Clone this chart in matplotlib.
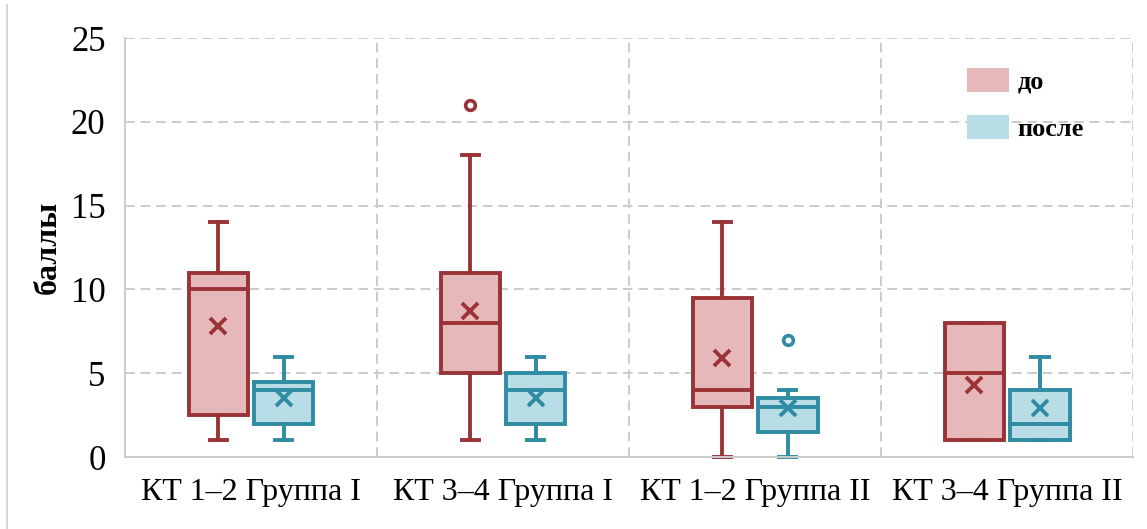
import matplotlib.pyplot as plt
from matplotlib.patches import Patch
from matplotlib.lines import Line2D

plt.rcParams['font.family'] = ['Liberation Serif', 'DejaVu Serif']

# ---- data ----
categories = ["КТ 1–2 Группа I", "КТ 3–4 Группа I", "КТ 1–2 Группа II", "КТ 3–4 Группа II"]

# до
do_whislo = [1, 1, 0, 1]
do_q1 = [2.5, 5, 3, 1]
do_med = [10, 8, 4, 5]
do_q3 = [11, 11, 9.5, 8]
do_whishi = [14, 18, 14, 8]
do_mean = [7.8, 8.7, 5.9, 4.3]
do_fliers = [[], [21], [], []]

# после
po_whislo = [1, 1, 0, 1]
po_q1 = [2, 2, 1.5, 1]
po_med = [4, 4, 3, 2]
po_q3 = [4.5, 5, 3.5, 4]
po_whishi = [6, 6, 4, 6]
po_mean = [3.5, 3.5, 2.9, 2.9]
po_fliers = [[], [], [7], []]

red_edge = '#9a3336'
red_fill = '#e6b8b9'
blue_edge = '#2f8ca3'
blue_fill = '#b8dde7'


def make_stats(lo, q1, med, q3, hi, mean, fl):
    return [dict(whislo=a, q1=b, med=c, q3=d, whishi=e, mean=f, fliers=g)
            for a, b, c, d, e, f, g in zip(lo, q1, med, q3, hi, mean, fl)]


fig = plt.figure(figsize=(11.47, 5.29), dpi=100)
ax = fig.add_axes([0.109, 0.136, 0.879, 0.792])

pos = list(range(len(categories)))
off = 0.13
w = 0.235
lw = 2.8

for stats, shift, ec, fc in [
    (make_stats(do_whislo, do_q1, do_med, do_q3, do_whishi, do_mean, do_fliers), -off, red_edge, red_fill),
    (make_stats(po_whislo, po_q1, po_med, po_q3, po_whishi, po_mean, po_fliers), off, blue_edge, blue_fill),
]:
    ax.bxp(stats, positions=[p + shift for p in pos], widths=w, capwidths=0.068,
           patch_artist=True, showmeans=True, manage_ticks=False,
           boxprops=dict(facecolor=fc, edgecolor=ec, linewidth=lw),
           medianprops=dict(color=ec, linewidth=lw),
           whiskerprops=dict(color=ec, linewidth=lw),
           capprops=dict(color=ec, linewidth=lw, clip_on=False),
           meanprops=dict(marker='x', markeredgecolor=ec, markersize=11, markeredgewidth=2.8),
           flierprops=dict(marker='o', markeredgecolor=ec, markerfacecolor='white',
                           markersize=7, markeredgewidth=2.6))

ax.set_xlim(-0.5, 3.5)
ax.set_ylim(0, 25)
ax.set_yticks([0, 5, 10, 15, 20, 25])
ax.set_xticks(pos)
ax.set_xticklabels(categories, fontsize=23)
ax.set_xticks([0.5, 1.5, 2.5, 3.5], minor=True)
ax.tick_params(axis='both', which='both', length=0)
ax.tick_params(axis='y', labelsize=25, pad=14)
ax.tick_params(axis='x', pad=15)

ax.grid(True, axis='y', color='#cccccc', linestyle=(0, (5, 3)), linewidth=1.4)
ax.grid(True, axis='x', which='minor', color='#cccccc', linestyle=(0, (5, 3)), linewidth=1.4)
ax.set_axisbelow(True)

for s in ['top', 'right']:
    ax.spines[s].set_visible(False)
for s in ['left', 'bottom']:
    ax.spines[s].set_color('#cccccc')
    ax.spines[s].set_linewidth(1.4)

ax.set_ylabel("баллы", fontsize=23, fontweight='bold', labelpad=6)

handles = [Patch(facecolor=red_fill, edgecolor='none', label='до'),
           Patch(facecolor=blue_fill, edgecolor='none', label='после')]
ax.legend(handles=handles, loc='upper right', bbox_to_anchor=(0.964, 0.96), frameon=False,
          borderpad=0, prop=dict(size=19, weight='bold'), handlelength=1.6, handleheight=1.0,
          labelspacing=0.8, handletextpad=0.3)

# тонкая рамка слева, как на исходном скриншоте
fig.add_artist(Line2D([0.0065, 0.0065], [0, 0.99], transform=fig.transFigure,
                      color='#cfcfcf', linewidth=1.2))

fig.savefig('out.png', dpi=100)
